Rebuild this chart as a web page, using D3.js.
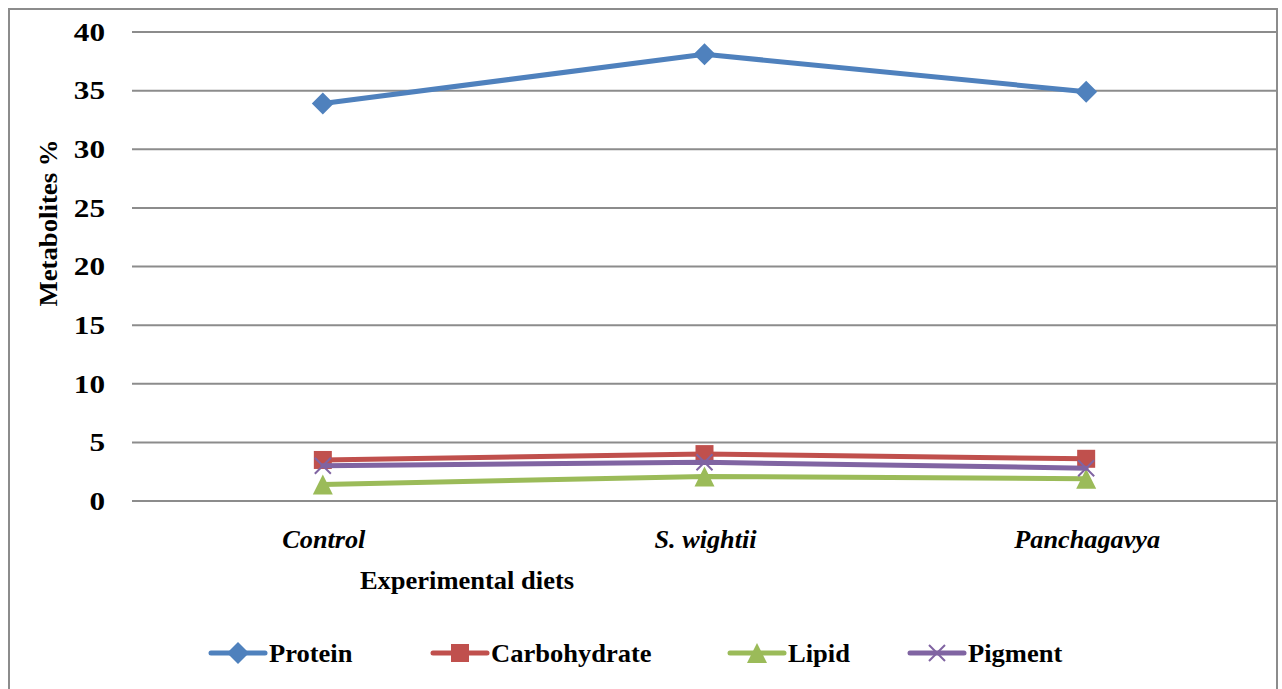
<!DOCTYPE html>
<html><head><meta charset="utf-8">
<script src="https://cdn.jsdelivr.net/npm/d3@7"></script>
<style>body{margin:0;background:#fff}svg{display:block}</style>
</head><body>
<svg id="c" width="1282" height="689"></svg>
<script>
const categories = ["Control", "S. wightii", "Panchagavya"];
const seriesNames = ["Protein", "Carbohydrate", "Lipid", "Pigment"];
const protein = [33.9, 38.1, 34.9];
const carbohydrate = [3.5, 4.0, 3.6];
const lipid = [1.4, 2.1, 1.9];
const pigment = [3.0, 3.3, 2.8];
const yTicks = [0, 5, 10, 15, 20, 25, 30, 35, 40];
const colors = ["#4F81BD", "#C0504D", "#9BBB59", "#8064A2"];
const markers = ["diamond", "square", "triangle", "x"];

const series = [protein, carbohydrate, lipid, pigment].map((v, i) => ({name: seriesNames[i], values: v, color: colors[i], marker: markers[i]}));

const svg = d3.select("#c");
const font = "'Liberation Serif','Times New Roman',serif";

function label(parent, x, y, txt, opts) {
  const o = Object.assign({size: 24, sx: 1.1, anchor: "start", italic: false, rotate: 0, dy: "0"}, opts);
  return parent.append("text")
    .attr("transform", `translate(${x},${y}) rotate(${o.rotate}) scale(${o.sx},1)`)
    .attr("text-anchor", o.anchor).attr("dy", o.dy)
    .attr("font-family", font).attr("font-weight", "bold")
    .attr("font-style", o.italic ? "italic" : "normal")
    .attr("font-size", o.size).attr("fill", "#000").text(txt);
}

// outer border
svg.append("rect").attr("x", 9).attr("y", 9).attr("width", 1268).attr("height", 700)
  .attr("fill", "none").attr("stroke", "#8c8c8c").attr("stroke-width", 2);

const plot = {left: 132, right: 1277, top: 32, bottom: 501};
const x = d3.scaleBand().domain(categories).range([plot.left, plot.right]);
const y = d3.scaleLinear().domain([0, 40]).range([plot.bottom, plot.top]);
const cx = c => x(c) + x.bandwidth() / 2;

// gridlines
svg.append("g").selectAll("line").data(yTicks).join("line")
  .attr("x1", plot.left).attr("x2", plot.right)
  .attr("y1", d => y(d)).attr("y2", d => y(d))
  .attr("stroke", "#8c8c8c").attr("stroke-width", 2);

// y tick labels
const yl = svg.append("g");
yTicks.forEach(t => label(yl, 105, y(t), y.tickFormat()(t), {size: 26, sx: 1.2, anchor: "end", dy: "0.34em"}));

// x category labels
const xl = svg.append("g");
categories.forEach(c => label(xl, cx(c) + 1, 548, c, {size: 25, sx: 1.05, anchor: "middle", italic: true}));

// axis titles
label(svg, 467, 589, "Experimental diets", {size: 26, sx: 1.02, anchor: "middle"});
label(svg, 57, 223, "Metabolites %", {size: 26, sx: 1.03, anchor: "middle", rotate: -90});

function drawMarker(g, type, color) {
  if (type === "diamond") g.append("path").attr("d", "M0,-11L11,0L0,11L-11,0Z").attr("fill", color);
  else if (type === "square") g.append("rect").attr("x", -9).attr("y", -9).attr("width", 18).attr("height", 18).attr("fill", color);
  else if (type === "triangle") g.append("path").attr("d", "M0,-10L10,10L-10,10Z").attr("fill", color);
  else if (type === "x") g.append("path").attr("d", "M-8,-8L8,8M-8,8L8,-8").attr("stroke", color).attr("stroke-width", 2).attr("fill", "none");
}

const line = d3.line().x((d, i) => cx(categories[i])).y(d => y(d));

series.forEach(s => {
  svg.append("path").datum(s.values).attr("d", line).attr("fill", "none")
    .attr("stroke", s.color).attr("stroke-width", 5).attr("stroke-linejoin", "round").attr("stroke-linecap", "round");
  s.values.forEach((v, i) => {
    const g = svg.append("g").attr("transform", `translate(${cx(categories[i])},${y(v)})`);
    drawMarker(g, s.marker, s.color);
  });
});

// legend
const legendX = [211, 433, 730, 910];
const legendY = 653;
series.forEach((s, i) => {
  const g = svg.append("g").attr("transform", `translate(${legendX[i]},${legendY})`);
  g.append("line").attr("x1", 0).attr("x2", 54).attr("y1", 0).attr("y2", 0)
    .attr("stroke", s.color).attr("stroke-width", 5).attr("stroke-linecap", "round");
  const m = g.append("g").attr("transform", "translate(27,0)");
  drawMarker(m, s.marker, s.color);
  label(g, 58, 9, s.name, {size: 26, sx: 1.02});
});
</script>
</body></html>
